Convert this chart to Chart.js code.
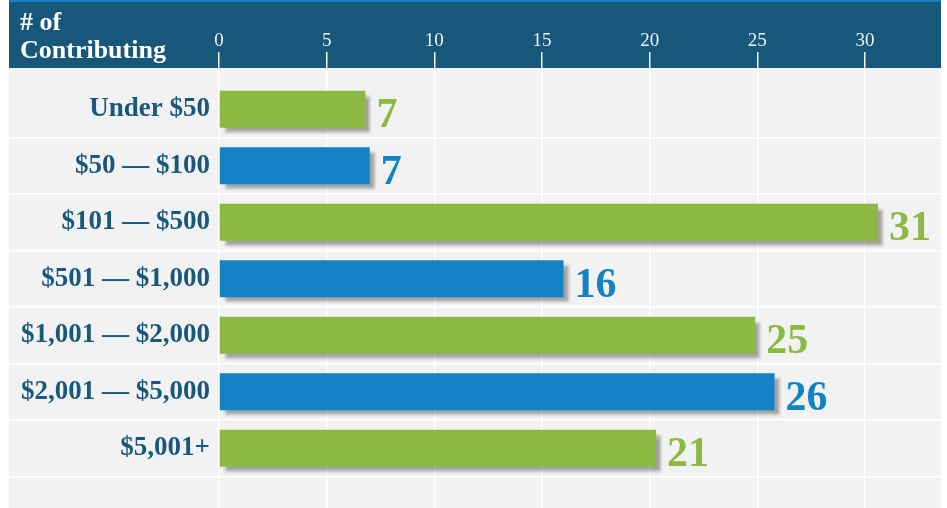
<!DOCTYPE html>
<html>
<head>
<meta charset="utf-8">
<script src="https://cdn.jsdelivr.net/npm/chart.js@4.4.0/dist/chart.umd.min.js"></script>
<style>
  html, body { margin: 0; padding: 0; background: #ffffff; overflow: hidden; }
  #wrap { position: absolute; left: 9px; top: 0; }
</style>
</head>
<body>
<div id="wrap"><canvas id="myChart" width="932" height="533"></canvas></div>
<script>
let categories = ["Under $50", "$50 \u2014 $100", "$101 \u2014 $500", "$501 \u2014 $1,000",
                  "$1,001 \u2014 $2,000", "$2,001 \u2014 $5,000", "$5,001+"]
// bar lengths as drawn in the picture
let barValues = [6.8, 7.0, 30.6, 16.0, 24.9, 25.8, 20.3]
// numbers printed next to the bars
let shownCounts = [7, 7, 31, 16, 25, 26, 21]
let xTicks = [0, 5, 10, 15, 20, 25, 30]

const green = "#8cb941"
const blue = "#1383c6"
const navy = "#16577a"
const serif = "'Liberation Serif', 'Times New Roman', serif"

const headerPlugin = {
  id: "header",
  beforeDraw(chart) {
    const ctx = chart.ctx
    ctx.save()
    ctx.fillStyle = "#f2f2f2"
    ctx.fillRect(0, 0, chart.width, chart.height)
    ctx.fillStyle = navy
    ctx.fillRect(0, 0, chart.width, 68)
    ctx.fillStyle = "#1580c4"
    ctx.fillRect(0, 0, chart.width, 2)
    ctx.fillStyle = "#ffffff"
    ctx.font = "bold 26px " + serif
    ctx.textAlign = "left"
    ctx.textBaseline = "alphabetic"
    ctx.fillText("# of", 11, 30)
    ctx.fillText("Contributing", 11, 58)
    ctx.restore()
  }
}

const shadowPlugin = {
  id: "barShadow",
  beforeDatasetsDraw(chart) {
    const ctx = chart.ctx
    ctx.save()
    ctx.shadowColor = "rgba(0,0,0,0.33)"
    ctx.shadowOffsetX = 5
    ctx.shadowOffsetY = 5
    ctx.shadowBlur = 3
  },
  afterDatasetsDraw(chart) {
    chart.ctx.restore()
  }
}

const valueLabels = {
  id: "valueLabels",
  afterDraw(chart) {
    const ctx = chart.ctx
    const meta = chart.getDatasetMeta(0)
    ctx.save()
    ctx.font = "bold 42px " + serif
    ctx.textAlign = "left"
    ctx.textBaseline = "alphabetic"
    meta.data.forEach((bar, i) => {
      if (shownCounts[i] === undefined) return
      ctx.fillStyle = i % 2 === 0 ? green : blue
      ctx.fillText(String(shownCounts[i]), bar.x + 11, bar.y + 18)
    })
    ctx.restore()
  }
}

const ctx = document.getElementById("myChart").getContext("2d")
const myChart = new Chart(ctx, {
  type: "bar",
  data: {
    // trailing empty slot keeps the grey band below the last bar
    labels: [...categories, ""],
    datasets: [
      {
        data: [...barValues, null],
        backgroundColor: categories.map((c, i) => (i % 2 === 0 ? green : blue)),
        borderWidth: 0,
        categoryPercentage: 1,
        barPercentage: 0.655,
      },
    ],
  },
  options: {
    indexAxis: "y",
    responsive: false,
    animation: false,
    devicePixelRatio: 1,
    layout: { padding: 0 },
    plugins: { legend: { display: false }, tooltip: { enabled: false } },
    scales: {
      x: {
        position: "top",
        min: 0,
        max: 33.53,
        afterBuildTicks: (s) => { s.ticks = xTicks.map((v) => ({ value: v })) },
        afterFit: (s) => { s.height = 81 },
        ticks: {
          color: "#eef3f6",
          font: { family: serif, size: 19 },
          padding: 0,
          maxRotation: 0,
        },
        grid: { color: "rgba(255,255,255,0.95)", lineWidth: 1.5, tickLength: 29 },
        border: { display: false },
      },
      y: {
        afterFit: (s) => { s.width = 210 },
        ticks: {
          color: "#17587c",
          font: { family: serif, size: 27, weight: "bold" },
          padding: -201,
        },
        grid: {
          offset: true,
          tickLength: 210,
          lineWidth: 1.5,
          color: (c) => (c.index === 0 ? "rgba(0,0,0,0)" : "rgba(255,255,255,0.95)"),
        },
        border: { display: false },
      },
    },
  },
  plugins: [headerPlugin, shadowPlugin, valueLabels],
})
</script>
</body>
</html>
